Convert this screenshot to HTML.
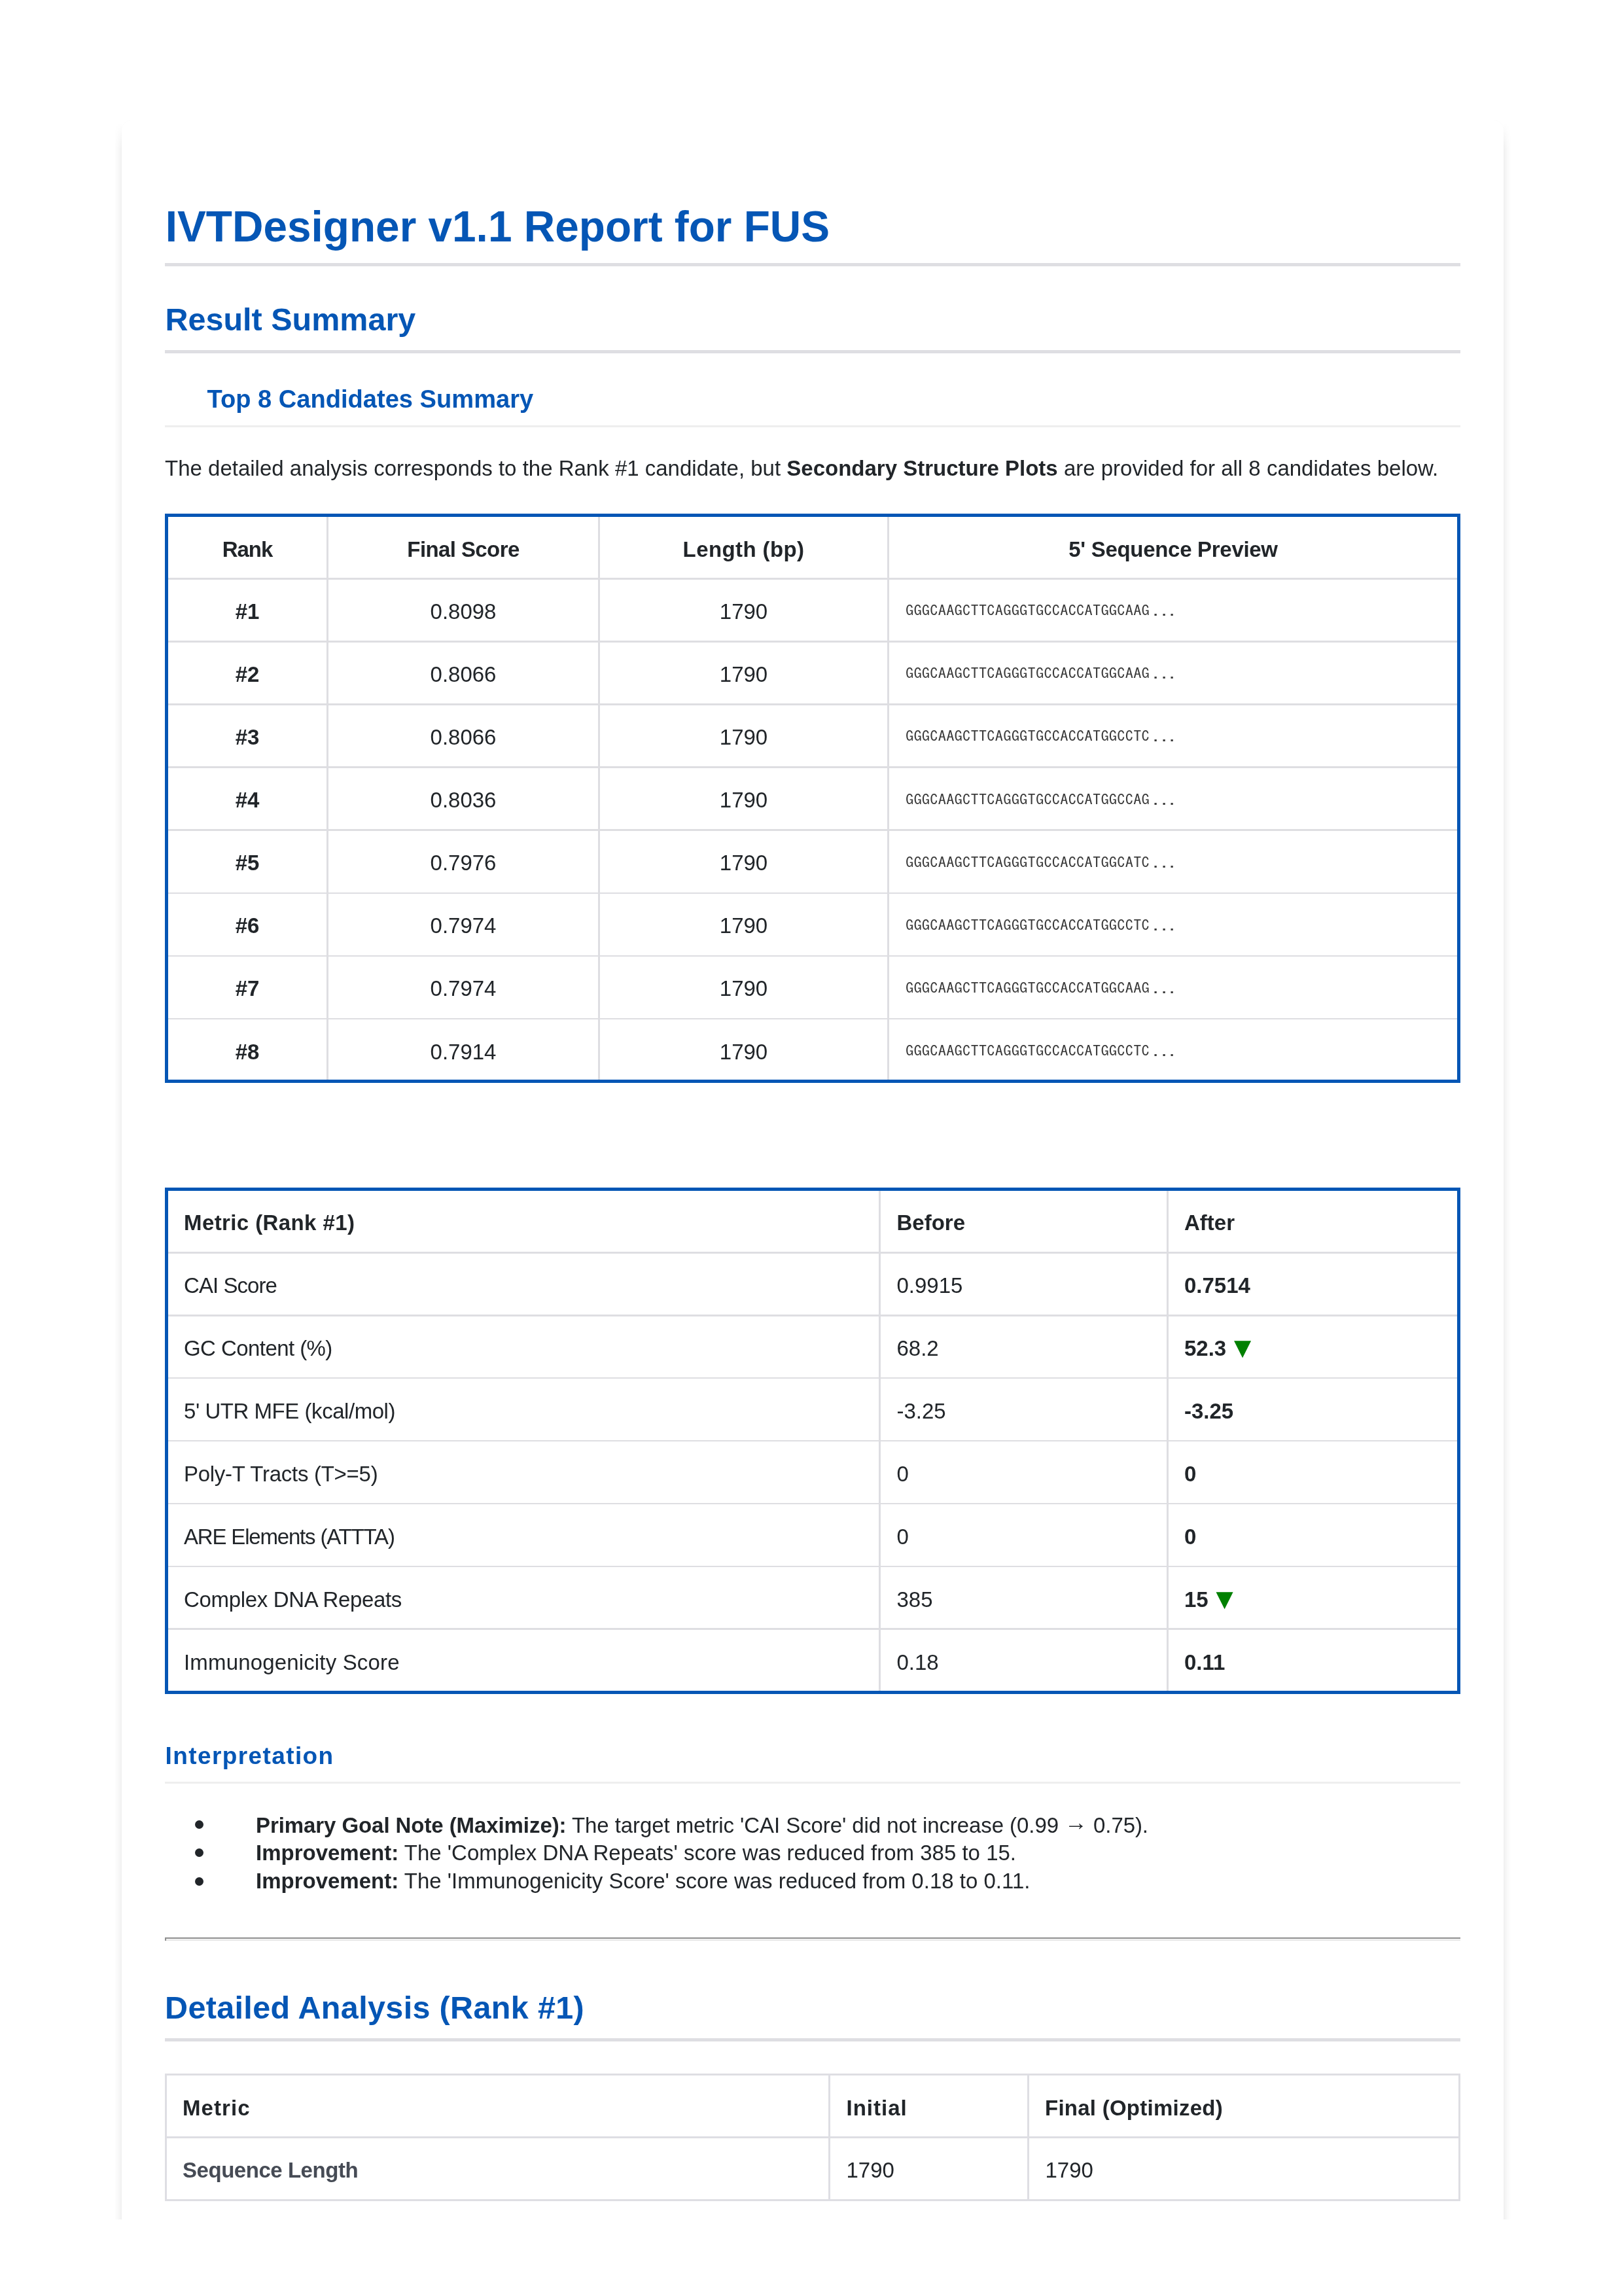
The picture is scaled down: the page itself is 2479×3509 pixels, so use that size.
<!DOCTYPE html>
<html lang="en"><head><meta charset="utf-8"><title>IVTDesigner v1.1 Report for FUS</title>
<style>
html,body{margin:0;padding:0;background:#fff;}
body{width:2479px;height:3509px;position:relative;overflow:hidden;font-family:'Liberation Sans', Arial, sans-serif;color:#212529;-webkit-font-smoothing:antialiased;}
.clip{position:absolute;left:0;top:0;width:2479px;height:3392px;overflow:hidden;}
.card{position:absolute;left:185.5px;top:184px;width:2112px;height:3400px;background:#fff;border-radius:15px 15px 0 0;box-shadow:0 0 1.5px rgba(0,0,0,0.035);}
.shl{position:absolute;left:174px;top:188px;width:12px;height:3300px;-webkit-mask-image:linear-gradient(to bottom,transparent 0,#000 40px);mask-image:linear-gradient(to bottom,transparent 0,#000 40px);background:linear-gradient(to right,rgba(0,0,0,0),rgba(0,0,0,0.02) 50%,rgba(0,0,0,0.05) 90%,rgba(0,0,0,0.055));}
.shr{position:absolute;left:2297.5px;top:188px;width:12px;height:3300px;-webkit-mask-image:linear-gradient(to bottom,transparent 0,#000 40px);mask-image:linear-gradient(to bottom,transparent 0,#000 40px);background:linear-gradient(to left,rgba(0,0,0,0),rgba(0,0,0,0.02) 50%,rgba(0,0,0,0.05) 90%,rgba(0,0,0,0.055));}
.content{position:absolute;left:0;top:0;width:2479px;height:3509px;will-change:transform;}
.t{position:absolute;white-space:nowrap;margin:0;padding:0;}
.r{position:absolute;}
.tri{color:#008000;font-family:'DejaVu Sans',sans-serif;font-size:34px;position:relative;top:-1px;left:2.5px;}
b{font-weight:700;}
</style></head><body>
<div class="clip"><div class="shl"></div><div class="shr"></div><div class="card"></div></div>
<main class="content">
<h1 class="t" style="left:252.7px;top:313.9px;font-size:65.74px;line-height:65.74px;font-weight:700;color:#0556b5;">IVTDesigner v1.1 Report for FUS</h1>
<div class="r" style="left:252.0px;top:402.0px;width:1980.0px;height:5.0px;background:#dedee2;"></div>
<h2 class="t" style="left:252.5px;top:464.4px;font-size:48.5px;line-height:48.5px;font-weight:700;color:#0556b5;">Result Summary</h2>
<div class="r" style="left:252.0px;top:535.0px;width:1980.0px;height:5.0px;background:#dedee2;"></div>
<h3 class="t" style="left:316.5px;top:591.0px;font-size:38.1px;line-height:38.1px;font-weight:700;color:#0556b5;">Top 8 Candidates Summary</h3>
<div class="r" style="left:252.0px;top:650.0px;width:1980.0px;height:2.5px;background:#eeeeee;"></div>
<p class="t" style="left:252.0px;top:699.1px;font-size:33px;line-height:33px;">The detailed analysis corresponds to the Rank #1 candidate, but <b>Secondary Structure Plots</b> are provided for all 8 candidates below.</p>
<div class="r" style="left:252.0px;top:785.0px;width:1980.0px;height:5.0px;background:#0556b5;"></div>
<div class="r" style="left:252.0px;top:1649.6px;width:1980.0px;height:5.0px;background:#0556b5;"></div>
<div class="r" style="left:252.0px;top:785.0px;width:5.0px;height:869.6px;background:#0556b5;"></div>
<div class="r" style="left:2227.0px;top:785.0px;width:5.0px;height:869.6px;background:#0556b5;"></div>
<div class="r" style="left:499.0px;top:790.0px;width:3.0px;height:859.6px;background:#dedee2;"></div>
<div class="r" style="left:914.0px;top:790.0px;width:3.0px;height:859.6px;background:#dedee2;"></div>
<div class="r" style="left:1356.0px;top:790.0px;width:3.0px;height:859.6px;background:#dedee2;"></div>
<div class="r" style="left:257.0px;top:883.0px;width:1970.0px;height:2.7px;background:#dedee2;"></div>
<div class="r" style="left:257.0px;top:979.1px;width:1970.0px;height:2.7px;background:#dedee2;"></div>
<div class="r" style="left:257.0px;top:1075.2px;width:1970.0px;height:2.7px;background:#dedee2;"></div>
<div class="r" style="left:257.0px;top:1171.3px;width:1970.0px;height:2.7px;background:#dedee2;"></div>
<div class="r" style="left:257.0px;top:1267.4px;width:1970.0px;height:2.7px;background:#dedee2;"></div>
<div class="r" style="left:257.0px;top:1363.5px;width:1970.0px;height:2.7px;background:#dedee2;"></div>
<div class="r" style="left:257.0px;top:1459.6px;width:1970.0px;height:2.7px;background:#dedee2;"></div>
<div class="r" style="left:257.0px;top:1555.7px;width:1970.0px;height:2.7px;background:#dedee2;"></div>
<div class="t" style="left:257.0px;top:822.7px;font-size:33px;line-height:33px;font-weight:700;letter-spacing:-1.0px;width:242.0px;text-align:center;">Rank</div>
<div class="t" style="left:502.0px;top:822.7px;font-size:33px;line-height:33px;font-weight:700;letter-spacing:-0.6px;width:412.0px;text-align:center;">Final Score</div>
<div class="t" style="left:917.0px;top:822.7px;font-size:33px;line-height:33px;font-weight:700;letter-spacing:0.4px;width:439.0px;text-align:center;">Length (bp)</div>
<div class="t" style="left:1359.0px;top:822.7px;font-size:33px;line-height:33px;font-weight:700;letter-spacing:-0.3px;width:868.0px;text-align:center;">5&#39; Sequence Preview</div>
<div class="t" style="left:257.0px;top:917.8px;font-size:33px;line-height:33px;font-weight:700;width:242.0px;text-align:center;">#1</div>
<div class="t" style="left:502.0px;top:917.8px;font-size:33px;line-height:33px;width:412.0px;text-align:center;">0.8098</div>
<div class="t" style="left:917.0px;top:917.8px;font-size:33px;line-height:33px;width:439.0px;text-align:center;">1790</div>
<div class="t" style="left:1384.0px;top:922.2px;font-size:22.2px;line-height:22.2px;color:#3a3a3a;letter-spacing:0.21px;font-family:'IPAGothic', 'Liberation Mono', monospace;transform:scaleX(1.1);transform-origin:0 0;">GGGCAAGCTTCAGGGTGCCACCATGGCAAG<span style="position:relative;left:4.8px">.</span><span style="position:relative;left:5.3px">.</span><span style="position:relative;left:4.9px">.</span></div>
<div class="t" style="left:257.0px;top:1013.9px;font-size:33px;line-height:33px;font-weight:700;width:242.0px;text-align:center;">#2</div>
<div class="t" style="left:502.0px;top:1013.9px;font-size:33px;line-height:33px;width:412.0px;text-align:center;">0.8066</div>
<div class="t" style="left:917.0px;top:1013.9px;font-size:33px;line-height:33px;width:439.0px;text-align:center;">1790</div>
<div class="t" style="left:1384.0px;top:1018.3px;font-size:22.2px;line-height:22.2px;color:#3a3a3a;letter-spacing:0.21px;font-family:'IPAGothic', 'Liberation Mono', monospace;transform:scaleX(1.1);transform-origin:0 0;">GGGCAAGCTTCAGGGTGCCACCATGGCAAG<span style="position:relative;left:4.8px">.</span><span style="position:relative;left:5.3px">.</span><span style="position:relative;left:4.9px">.</span></div>
<div class="t" style="left:257.0px;top:1110.0px;font-size:33px;line-height:33px;font-weight:700;width:242.0px;text-align:center;">#3</div>
<div class="t" style="left:502.0px;top:1110.0px;font-size:33px;line-height:33px;width:412.0px;text-align:center;">0.8066</div>
<div class="t" style="left:917.0px;top:1110.0px;font-size:33px;line-height:33px;width:439.0px;text-align:center;">1790</div>
<div class="t" style="left:1384.0px;top:1114.4px;font-size:22.2px;line-height:22.2px;color:#3a3a3a;letter-spacing:0.21px;font-family:'IPAGothic', 'Liberation Mono', monospace;transform:scaleX(1.1);transform-origin:0 0;">GGGCAAGCTTCAGGGTGCCACCATGGCCTC<span style="position:relative;left:4.8px">.</span><span style="position:relative;left:5.3px">.</span><span style="position:relative;left:4.9px">.</span></div>
<div class="t" style="left:257.0px;top:1206.1px;font-size:33px;line-height:33px;font-weight:700;width:242.0px;text-align:center;">#4</div>
<div class="t" style="left:502.0px;top:1206.1px;font-size:33px;line-height:33px;width:412.0px;text-align:center;">0.8036</div>
<div class="t" style="left:917.0px;top:1206.1px;font-size:33px;line-height:33px;width:439.0px;text-align:center;">1790</div>
<div class="t" style="left:1384.0px;top:1210.5px;font-size:22.2px;line-height:22.2px;color:#3a3a3a;letter-spacing:0.21px;font-family:'IPAGothic', 'Liberation Mono', monospace;transform:scaleX(1.1);transform-origin:0 0;">GGGCAAGCTTCAGGGTGCCACCATGGCCAG<span style="position:relative;left:4.8px">.</span><span style="position:relative;left:5.3px">.</span><span style="position:relative;left:4.9px">.</span></div>
<div class="t" style="left:257.0px;top:1302.2px;font-size:33px;line-height:33px;font-weight:700;width:242.0px;text-align:center;">#5</div>
<div class="t" style="left:502.0px;top:1302.2px;font-size:33px;line-height:33px;width:412.0px;text-align:center;">0.7976</div>
<div class="t" style="left:917.0px;top:1302.2px;font-size:33px;line-height:33px;width:439.0px;text-align:center;">1790</div>
<div class="t" style="left:1384.0px;top:1306.6px;font-size:22.2px;line-height:22.2px;color:#3a3a3a;letter-spacing:0.21px;font-family:'IPAGothic', 'Liberation Mono', monospace;transform:scaleX(1.1);transform-origin:0 0;">GGGCAAGCTTCAGGGTGCCACCATGGCATC<span style="position:relative;left:4.8px">.</span><span style="position:relative;left:5.3px">.</span><span style="position:relative;left:4.9px">.</span></div>
<div class="t" style="left:257.0px;top:1398.3px;font-size:33px;line-height:33px;font-weight:700;width:242.0px;text-align:center;">#6</div>
<div class="t" style="left:502.0px;top:1398.3px;font-size:33px;line-height:33px;width:412.0px;text-align:center;">0.7974</div>
<div class="t" style="left:917.0px;top:1398.3px;font-size:33px;line-height:33px;width:439.0px;text-align:center;">1790</div>
<div class="t" style="left:1384.0px;top:1402.7px;font-size:22.2px;line-height:22.2px;color:#3a3a3a;letter-spacing:0.21px;font-family:'IPAGothic', 'Liberation Mono', monospace;transform:scaleX(1.1);transform-origin:0 0;">GGGCAAGCTTCAGGGTGCCACCATGGCCTC<span style="position:relative;left:4.8px">.</span><span style="position:relative;left:5.3px">.</span><span style="position:relative;left:4.9px">.</span></div>
<div class="t" style="left:257.0px;top:1494.4px;font-size:33px;line-height:33px;font-weight:700;width:242.0px;text-align:center;">#7</div>
<div class="t" style="left:502.0px;top:1494.4px;font-size:33px;line-height:33px;width:412.0px;text-align:center;">0.7974</div>
<div class="t" style="left:917.0px;top:1494.4px;font-size:33px;line-height:33px;width:439.0px;text-align:center;">1790</div>
<div class="t" style="left:1384.0px;top:1498.8px;font-size:22.2px;line-height:22.2px;color:#3a3a3a;letter-spacing:0.21px;font-family:'IPAGothic', 'Liberation Mono', monospace;transform:scaleX(1.1);transform-origin:0 0;">GGGCAAGCTTCAGGGTGCCACCATGGCAAG<span style="position:relative;left:4.8px">.</span><span style="position:relative;left:5.3px">.</span><span style="position:relative;left:4.9px">.</span></div>
<div class="t" style="left:257.0px;top:1590.5px;font-size:33px;line-height:33px;font-weight:700;width:242.0px;text-align:center;">#8</div>
<div class="t" style="left:502.0px;top:1590.5px;font-size:33px;line-height:33px;width:412.0px;text-align:center;">0.7914</div>
<div class="t" style="left:917.0px;top:1590.5px;font-size:33px;line-height:33px;width:439.0px;text-align:center;">1790</div>
<div class="t" style="left:1384.0px;top:1594.9px;font-size:22.2px;line-height:22.2px;color:#3a3a3a;letter-spacing:0.21px;font-family:'IPAGothic', 'Liberation Mono', monospace;transform:scaleX(1.1);transform-origin:0 0;">GGGCAAGCTTCAGGGTGCCACCATGGCCTC<span style="position:relative;left:4.8px">.</span><span style="position:relative;left:5.3px">.</span><span style="position:relative;left:4.9px">.</span></div>
<div class="r" style="left:252.0px;top:1815.0px;width:1980.0px;height:5.0px;background:#0556b5;"></div>
<div class="r" style="left:252.0px;top:2583.5px;width:1980.0px;height:5.0px;background:#0556b5;"></div>
<div class="r" style="left:252.0px;top:1815.0px;width:5.0px;height:773.5px;background:#0556b5;"></div>
<div class="r" style="left:2227.0px;top:1815.0px;width:5.0px;height:773.5px;background:#0556b5;"></div>
<div class="r" style="left:1343.2px;top:1820.0px;width:2.8px;height:763.5px;background:#dedee2;"></div>
<div class="r" style="left:1783.0px;top:1820.0px;width:2.8px;height:763.5px;background:#dedee2;"></div>
<div class="r" style="left:257.0px;top:1913.2px;width:1970.0px;height:2.6px;background:#dedee2;"></div>
<div class="r" style="left:257.0px;top:2009.1px;width:1970.0px;height:2.6px;background:#dedee2;"></div>
<div class="r" style="left:257.0px;top:2104.9px;width:1970.0px;height:2.6px;background:#dedee2;"></div>
<div class="r" style="left:257.0px;top:2200.8px;width:1970.0px;height:2.6px;background:#dedee2;"></div>
<div class="r" style="left:257.0px;top:2296.7px;width:1970.0px;height:2.6px;background:#dedee2;"></div>
<div class="r" style="left:257.0px;top:2392.6px;width:1970.0px;height:2.6px;background:#dedee2;"></div>
<div class="r" style="left:257.0px;top:2488.4px;width:1970.0px;height:2.6px;background:#dedee2;"></div>
<div class="t" style="left:281.0px;top:1852.1px;font-size:33px;line-height:33px;font-weight:700;letter-spacing:0.4px;">Metric (Rank #1)</div>
<div class="t" style="left:1370.5px;top:1852.1px;font-size:33px;line-height:33px;font-weight:700;">Before</div>
<div class="t" style="left:1810.0px;top:1852.1px;font-size:33px;line-height:33px;font-weight:700;">After</div>
<div class="t" style="left:281.0px;top:1948.3px;font-size:33px;line-height:33px;letter-spacing:-0.95px;">CAI Score</div>
<div class="t" style="left:1370.5px;top:1948.3px;font-size:33px;line-height:33px;">0.9915</div>
<div class="t" style="left:1810.0px;top:1948.3px;font-size:33px;line-height:33px;"><b>0.7514</b></div>
<div class="t" style="left:281.0px;top:2044.1px;font-size:33px;line-height:33px;letter-spacing:-0.57px;">GC Content (%)</div>
<div class="t" style="left:1370.5px;top:2044.1px;font-size:33px;line-height:33px;">68.2</div>
<div class="t" style="left:1810.0px;top:2044.1px;font-size:33px;line-height:33px;"><b>52.3</b> <span class="tri">&#9660;</span></div>
<div class="t" style="left:281.0px;top:2140.0px;font-size:33px;line-height:33px;letter-spacing:-0.46px;">5&#39; UTR MFE (kcal/mol)</div>
<div class="t" style="left:1370.5px;top:2140.0px;font-size:33px;line-height:33px;">-3.25</div>
<div class="t" style="left:1810.0px;top:2140.0px;font-size:33px;line-height:33px;"><b>-3.25</b></div>
<div class="t" style="left:281.0px;top:2235.9px;font-size:33px;line-height:33px;letter-spacing:-0.28px;">Poly-T Tracts (T&gt;=5)</div>
<div class="t" style="left:1370.5px;top:2235.9px;font-size:33px;line-height:33px;">0</div>
<div class="t" style="left:1810.0px;top:2235.9px;font-size:33px;line-height:33px;"><b>0</b></div>
<div class="t" style="left:281.0px;top:2331.7px;font-size:33px;line-height:33px;letter-spacing:-1.18px;">ARE Elements (ATTTA)</div>
<div class="t" style="left:1370.5px;top:2331.7px;font-size:33px;line-height:33px;">0</div>
<div class="t" style="left:1810.0px;top:2331.7px;font-size:33px;line-height:33px;"><b>0</b></div>
<div class="t" style="left:281.0px;top:2427.6px;font-size:33px;line-height:33px;letter-spacing:-0.33px;">Complex DNA Repeats</div>
<div class="t" style="left:1370.5px;top:2427.6px;font-size:33px;line-height:33px;">385</div>
<div class="t" style="left:1810.0px;top:2427.6px;font-size:33px;line-height:33px;"><b>15</b> <span class="tri">&#9660;</span></div>
<div class="t" style="left:281.0px;top:2523.5px;font-size:33px;line-height:33px;letter-spacing:0.16px;">Immunogenicity Score</div>
<div class="t" style="left:1370.5px;top:2523.5px;font-size:33px;line-height:33px;">0.18</div>
<div class="t" style="left:1810.0px;top:2523.5px;font-size:33px;line-height:33px;"><b>0.11</b></div>
<h3 class="t" style="left:252.5px;top:2665.1px;font-size:37px;line-height:37px;font-weight:700;color:#0556b5;letter-spacing:1.4px;">Interpretation</h3>
<div class="r" style="left:252.0px;top:2723.0px;width:1980.0px;height:2.5px;background:#eeeeee;"></div>
<div class="r" style="left:298px;top:2782.2px;width:13px;height:13px;border-radius:50%;background:#212529"></div>
<p class="t" style="left:391.0px;top:2771.6px;font-size:33px;line-height:33px;letter-spacing:-0.08px;"><b>Primary Goal Note (Maximize):</b> The target metric &#39;CAI Score&#39; did not increase (0.99 <span style='position:relative;top:-4px;font-size:35px'>&#8594;</span> 0.75).</p>
<div class="r" style="left:298px;top:2825.4px;width:13px;height:13px;border-radius:50%;background:#212529"></div>
<p class="t" style="left:391.0px;top:2814.8px;font-size:33px;line-height:33px;"><b>Improvement:</b> The &#39;Complex DNA Repeats&#39; score was reduced from 385 to 15.</p>
<div class="r" style="left:298px;top:2868.6px;width:13px;height:13px;border-radius:50%;background:#212529"></div>
<p class="t" style="left:391.0px;top:2858.0px;font-size:33px;line-height:33px;"><b>Improvement:</b> The &#39;Immunogenicity Score&#39; score was reduced from 0.18 to 0.11.</p>
<div class="r" style="left:252.0px;top:2961.0px;width:1980.0px;height:2.0px;background:#8f8f8f;"></div>
<div class="r" style="left:252.0px;top:2963.5px;width:1980.0px;height:2.2px;background:#e6e6e6;"></div>
<div class="r" style="left:252.0px;top:2961.0px;width:2.0px;height:4.5px;background:#8f8f8f;"></div>
<h2 class="t" style="left:252.0px;top:3044.4px;font-size:48.5px;line-height:48.5px;font-weight:700;color:#0556b5;letter-spacing:0.35px;">Detailed Analysis (Rank #1)</h2>
<div class="r" style="left:252.0px;top:3115.4px;width:1980.0px;height:4.5px;background:#dedee2;"></div>
<div class="r" style="left:252.0px;top:3169.0px;width:1980.0px;height:2.8px;background:#dedee3;"></div>
<div class="r" style="left:252.0px;top:3361.3px;width:1980.0px;height:2.7px;background:#dedee3;"></div>
<div class="r" style="left:252.0px;top:3169.0px;width:2.8px;height:195.0px;background:#dedee3;"></div>
<div class="r" style="left:2229.2px;top:3169.0px;width:2.8px;height:195.0px;background:#dedee3;"></div>
<div class="r" style="left:252.0px;top:3265.1px;width:1980.0px;height:2.6px;background:#dedee3;"></div>
<div class="r" style="left:1266.0px;top:3169.0px;width:2.8px;height:195.0px;background:#dedee3;"></div>
<div class="r" style="left:1570.0px;top:3169.0px;width:2.8px;height:195.0px;background:#dedee3;"></div>
<div class="t" style="left:279.0px;top:3204.5px;font-size:33px;line-height:33px;font-weight:700;letter-spacing:1.08px;">Metric</div>
<div class="t" style="left:1293.5px;top:3204.5px;font-size:33px;line-height:33px;font-weight:700;letter-spacing:1.0px;">Initial</div>
<div class="t" style="left:1597.0px;top:3204.5px;font-size:33px;line-height:33px;font-weight:700;letter-spacing:0.25px;">Final (Optimized)</div>
<div class="t" style="left:279.0px;top:3300.1px;font-size:33px;line-height:33px;font-weight:700;color:#464b55;letter-spacing:-0.46px;">Sequence Length</div>
<div class="t" style="left:1293.5px;top:3300.1px;font-size:33px;line-height:33px;">1790</div>
<div class="t" style="left:1597.5px;top:3300.1px;font-size:33px;line-height:33px;">1790</div>
</main>
</body></html>
